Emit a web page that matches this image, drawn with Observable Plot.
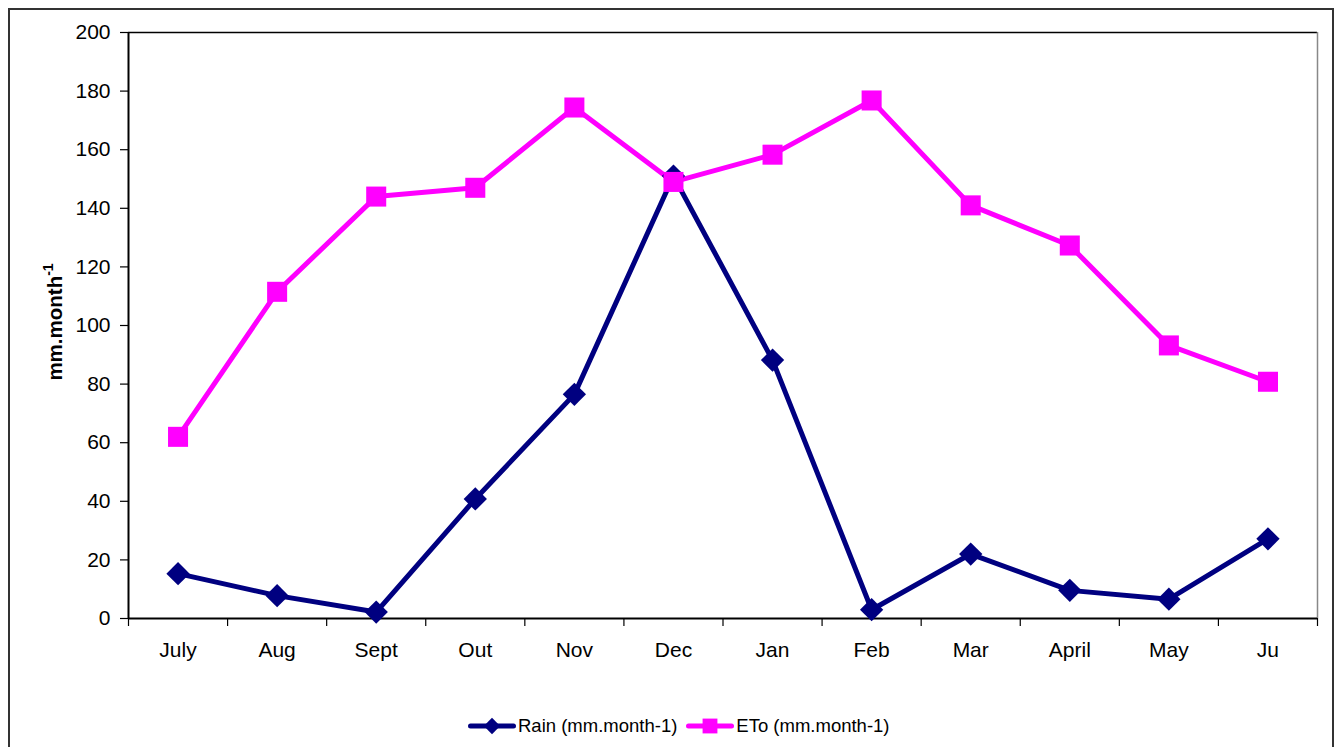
<!DOCTYPE html>
<html>
<head>
<meta charset="utf-8">
<script src="https://cdn.jsdelivr.net/npm/d3@7"></script>
<script src="https://cdn.jsdelivr.net/npm/@observablehq/plot@0.6"></script>
<style>
  html, body { margin: 0; padding: 0; background: #fff; }
  body { width: 1340px; height: 747px; overflow: hidden; position: relative; font-family: "Liberation Sans", Arial, sans-serif; }
  #frame { position: absolute; left: 8px; top: 8px; width: 1326px; height: 760px; border: 2px solid #333; box-sizing: border-box; }
  #chart { position: absolute; left: 0; top: 0; }
  #legend { position: absolute; left: 468px; top: 715px; display: flex; align-items: center; font-size: 18.5px; color: #000; }
  #legend .item { display: flex; align-items: center; margin-right: 9px; }
  #legend svg { margin-right: 2px; }
</style>
</head>
<body>
<div id="frame"></div>
<div id="chart"></div>
<div id="legend"></div>
<script>
const months = ["July", "Aug", "Sept", "Out", "Nov", "Dec", "Jan", "Feb", "Mar", "April", "May", "Ju"];
const rain = [15.3, 7.8, 2.2, 40.8, 76.5, 151, 88.2, 3, 22, 9.6, 6.6, 27.2];
const eto = [62, 111.5, 144, 147, 174.4, 149, 158.3, 176.8, 141, 127.3, 93.2, 80.8];
const yTicks = [0, 20, 40, 60, 80, 100, 120, 140, 160, 180, 200];
const seriesNames = ["Rain (mm.month-1)", "ETo (mm.month-1)"];
const colors = ["#000080", "#FF00FF"];

const rainData = months.map((m, i) => ({i, v: rain[i]}));
const etoData = months.map((m, i) => ({i, v: eto[i]}));
const boundaries = d3.range(months.length + 1).map(k => k - 0.5);

const chart = Plot.plot({
  width: 1340,
  height: 690,
  marginTop: 32,
  marginLeft: 128,
  marginRight: 23,
  marginBottom: 72,
  style: {fontFamily: "Liberation Sans, Arial, sans-serif", fontSize: "21px", color: "#000", background: "transparent"},
  x: {type: "linear", domain: [-0.5, months.length - 0.5]},
  y: {domain: [0, 200]},
  marks: [
    Plot.ruleY([200], {stroke: "#000", strokeWidth: 1.5}),
    Plot.ruleX([months.length - 0.5], {stroke: "#888", strokeWidth: 1.5}),
    Plot.axisY({ticks: yTicks, tickSize: 8, tickPadding: 10, label: null, fontSize: 21, strokeWidth: 1.2}),
    Plot.axisX({ticks: boundaries, tickSize: 8, tickFormat: () => "", label: null, strokeWidth: 1.2}),
    Plot.axisX({ticks: d3.range(months.length), tickSize: 0, tickPadding: 24, tickFormat: i => months[i], label: null, fontSize: 21}),
    Plot.ruleX([-0.5], {stroke: "#000", strokeWidth: 2}),
    Plot.ruleY([0], {stroke: "#000", strokeWidth: 2}),
    Plot.line(rainData, {x: "i", y: "v", stroke: colors[0], strokeWidth: 5}),
    Plot.line(etoData, {x: "i", y: "v", stroke: colors[1], strokeWidth: 5}),
    Plot.dot(rainData, {x: "i", y: "v", symbol: "diamond2", r: 10.5, fill: colors[0], stroke: "none"}),
    Plot.dot(etoData, {x: "i", y: "v", symbol: "square", r: 11.3, fill: colors[1], stroke: "none"})
  ]
});

// Y axis title with superscript
const svg = d3.select(chart);
const t = svg.append("text")
  .attr("transform", "translate(62,322) rotate(-90)")
  .attr("text-anchor", "middle")
  .attr("font-weight", "bold")
  .attr("font-size", 20.5)
  .attr("font-family", "Liberation Sans, Arial, sans-serif")
  .attr("fill", "#000");
t.append("tspan").text("mm.month");
t.append("tspan").attr("dy", -9).attr("font-size", 14).text("-1");

document.getElementById("chart").appendChild(chart);

// Legend
const legend = d3.select("#legend");
seriesNames.forEach((name, k) => {
  const item = legend.append("div").attr("class", "item");
  const s = item.append("svg").attr("width", 48).attr("height", 22);
  s.append("line").attr("x1", 2.5).attr("x2", 45.5).attr("y1", 11).attr("y2", 11)
    .attr("stroke", colors[k]).attr("stroke-width", 5).attr("stroke-linecap", "round");
  const sym = d3.symbol(k === 0 ? d3.symbolDiamond2 : d3.symbolSquare, k === 0 ? 170 : 220);
  s.append("path").attr("d", sym()).attr("transform", "translate(24,11)").attr("fill", colors[k]);
  item.append("span").text(name);
});
</script>
</body>
</html>
